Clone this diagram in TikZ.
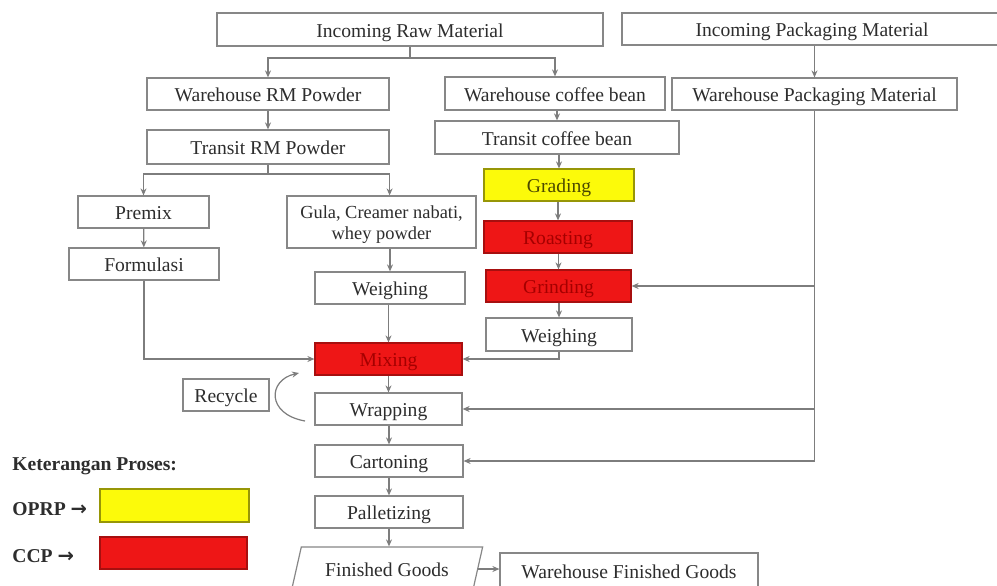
\documentclass[tikz,border=0pt]{standalone}
\usepackage{fontspec}
\setmainfont{Liberation Serif}
\newfontfamily\arrowsym{DejaVu Sans}
\usepackage{tikz}
\usetikzlibrary{arrows.meta}
\usetikzlibrary{shapes.geometric}
\usetikzlibrary{calc}

\definecolor{linegray}{RGB}{125,125,125}
\definecolor{boxgray}{RGB}{135,135,135}
\definecolor{txtgray}{RGB}{45,45,45}
\definecolor{ccpred}{RGB}{238,22,22}
\definecolor{ccptext}{RGB}{165,0,0}
\definecolor{oprpyellow}{RGB}{252,250,10}
\definecolor{oprptext}{RGB}{75,72,0}

\tikzset{
  procbox/.style={draw=boxgray, line width=0.6pt, fill=white, text=txtgray, inner sep=1pt, align=center, font=\fontsize{9.8pt}{11pt}\selectfont, text height=0.98em, text depth=0.2em},
  ccpbox/.style={procbox, fill=ccpred, draw=ccpred!70!black, text=ccptext},
  oprpbox/.style={procbox, fill=oprpyellow, draw=oprpyellow!60!black, text=oprptext},
  flow/.style={draw=linegray, line width=0.6pt},
  flowarrow/.style={flow, -{Stealth[length=3.5pt,width=3pt]}},
  legendtext/.style={anchor=west, inner sep=0pt, text=txtgray, font=\fontsize{9.8pt}{11pt}\selectfont\bfseries, text height=0.98em, text depth=0.2em}
}

\begin{document}
\begin{tikzpicture}[x=0.5pt,y=-0.5pt]
\useasboundingbox[fill=white] (0,0) rectangle (997,585);

\node[procbox, minimum width=193pt, minimum height=16.5pt] (irm) at (410,29.5) {Incoming Raw Material};
\node[procbox, minimum width=190pt, minimum height=16pt] (ipm) at (812,29) {Incoming Packaging Material};
\node[procbox, minimum width=121pt, minimum height=16pt] (wrm) at (268,94) {Warehouse RM Powder};
\node[procbox, minimum width=121pt, minimum height=17pt] (trm) at (268,147) {Transit RM Powder};
\node[procbox, minimum width=110pt, minimum height=16.5pt] (wcb) at (555,93.5) {Warehouse coffee bean};
\node[procbox, minimum width=122pt, minimum height=16.5pt] (tcb) at (557,137.5) {Transit coffee bean};
\node[procbox, minimum width=142.5pt, minimum height=16pt] (wpm) at (814.5,94) {Warehouse Packaging Material};
\node[oprpbox, minimum width=75pt, minimum height=16pt] (grading) at (559,185) {Grading};
\node[ccpbox, minimum width=74pt, minimum height=16pt] (roasting) at (558,237) {Roasting};
\node[ccpbox, minimum width=72.5pt, minimum height=16pt] (grinding) at (558.5,286) {Grinding};
\node[procbox, minimum width=73pt, minimum height=16.5pt] (weighc) at (559,334.5) {Weighing};
\node[procbox, minimum width=65.5pt, minimum height=16pt] (premix) at (143.5,212) {Premix};
\node[procbox, minimum width=75pt, minimum height=16pt] (formulasi) at (144,264) {Formulasi};
\node[procbox, minimum width=94.5pt, minimum height=26pt, font=\fontsize{9.2pt}{10.5pt}\selectfont, text height=19.5pt, text depth=2.5pt] (gula) at (381.5,222) {Gula, Creamer nabati,\\whey powder};
\node[procbox, minimum width=75pt, minimum height=16pt] (weighp) at (390,288) {Weighing};
\node[ccpbox, minimum width=73.5pt, minimum height=16pt] (mixing) at (388.5,359) {Mixing};
\node[procbox, minimum width=43pt, minimum height=16pt] (recycle) at (226,395) {Recycle};
\node[procbox, minimum width=73.5pt, minimum height=16pt] (wrapping) at (388.5,409) {Wrapping};
\node[procbox, minimum width=74pt, minimum height=16pt] (cartoning) at (389,461) {Cartoning};
\node[procbox, minimum width=74pt, minimum height=16pt] (palletizing) at (389,512) {Palletizing};
\node[procbox, trapezium, trapezium stretches=true, trapezium left angle=75, trapezium right angle=105, minimum width=96pt, minimum height=22pt] (finished) at (387,569) {Finished Goods};
\node[procbox, minimum width=129pt, minimum height=18pt] (wfg) at (629,571) {Warehouse Finished Goods};

\node[legendtext] (legtitle) at (12,463) {Keterangan Proses:};
\node[legendtext] (oprp) at (12,508) {OPRP {\arrowsym\bfseries →}};
\node[legendtext] (ccp) at (12,555) {CCP {\arrowsym\bfseries →}};
\node[oprpbox, minimum width=74.5pt, minimum height=16.5pt] (oprpkey) at (174.5,505.5) {};
\node[ccpbox, minimum width=73.5pt, minimum height=16pt] (ccpkey) at (173.5,553) {};

\coordinate (irmsplit) at (410,58);
\draw[flow] (irm.south) -- (irmsplit);
\draw[flowarrow] (irmsplit) -| (wrm.north);
\draw[flowarrow] (irmsplit) -| (wcb.north);
\draw[flowarrow] (ipm.south -| wpm.north) -- (wpm.north);

\draw[flowarrow] (wrm) -- (trm);
\coordinate (trmsplit) at (268,174);
\draw[flow] (trm.south) -- (trmsplit);
\draw[flowarrow] (trmsplit) -| (premix.north);
\draw[flowarrow] (trmsplit) -| (gula.north -| trm.east);
\draw[flowarrow] (premix) -- (formulasi);
\draw[flowarrow] (formulasi.south) |- (mixing.west);
\draw[flowarrow] (gula.south -| weighp.north) -- (weighp.north);
\draw[flowarrow] (weighp.south -| mixing.north) -- (mixing.north);

\draw[flowarrow] (wcb.south -| tcb.north) -- (tcb.north);
\draw[flowarrow] (tcb.south -| grading.north) -- (grading.north);
\draw[flowarrow] (grading.south -| roasting.north) -- (roasting.north);
\draw[flowarrow] (roasting.south -| grinding.north) -- (grinding.north);
\draw[flowarrow] (grinding.south -| weighc.north) -- (weighc.north);
\draw[flowarrow] (weighc.south) |- (mixing.east);

\coordinate (wpmend) at (wpm.south |- cartoning.east);
\draw[flow] (wpm.south) -- (wpmend);
\draw[flowarrow] (wpm.south |- grinding.east) -- (grinding.east);
\draw[flowarrow] (wpm.south |- wrapping.east) -- (wrapping.east);
\draw[flowarrow] (wpmend) -- (cartoning.east);

\draw[flowarrow] (mixing) -- (wrapping);
\draw[flowarrow] (wrapping.south -| cartoning.north) -- (cartoning.north);
\draw[flowarrow] (cartoning) -- (palletizing);
\draw[flowarrow] (palletizing.south) -- (palletizing.south |- finished.north);
\draw[flowarrow] (finished.east) -- (finished.east -| wfg.west);

\coordinate (recstart) at (305,421);
\coordinate (recend) at (299,373);
\draw[flowarrow] (recstart) .. controls (266,414) and (268,380) .. (recend);
\end{tikzpicture}
\end{document}
